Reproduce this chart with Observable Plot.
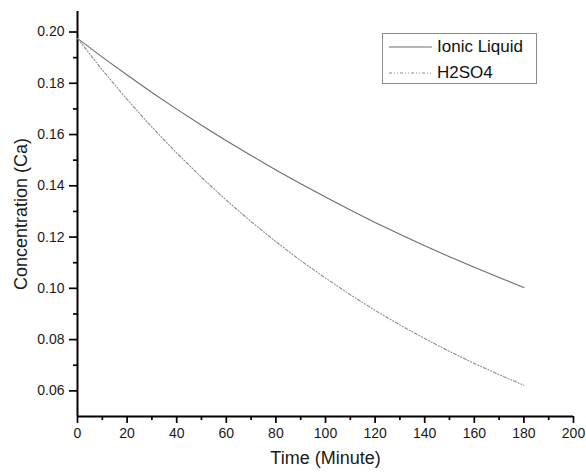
<!DOCTYPE html>
<html>
<head>
<meta charset="utf-8">
<script src="https://cdn.jsdelivr.net/npm/d3@7"></script>
<script src="https://cdn.jsdelivr.net/npm/@observablehq/plot@0.6"></script>
<style>
  html, body { margin: 0; padding: 0; background: #fff; }
  #wrap { position: relative; width: 586px; height: 472px; font-family: "Liberation Sans", Arial, sans-serif; }
  #legend { position: absolute; left: 382px; top: 33px; width: 155px; height: 51px; border: 1px solid #8a8a8a; background: #fff; box-sizing: border-box; }
  #legend .row { position: absolute; left: 6px; height: 20px; display: flex; align-items: center; font-size: 17px; color: #111; white-space: nowrap; }
  #legend svg { margin-right: 5px; }
</style>
</head>
<body>
<div id="wrap"></div>
<script>
// Data
const time = [0, 10, 20, 30, 40, 50, 60, 70, 80, 90, 100, 110, 120, 130, 140, 150, 160, 170, 180];
const ionicLiquid = [0.1975, 0.1902, 0.1832, 0.1764, 0.1699, 0.1636, 0.1576, 0.1518, 0.1462, 0.1408, 0.1356, 0.1306, 0.1257, 0.1211, 0.1166, 0.1123, 0.1082, 0.1042, 0.1003];
const h2so4 = [0.1975, 0.1852, 0.1737, 0.1629, 0.1528, 0.1433, 0.1344, 0.1260, 0.1182, 0.1108, 0.1040, 0.0975, 0.0914, 0.0857, 0.0804, 0.0754, 0.0707, 0.0663, 0.0622];
const seriesNames = ["Ionic Liquid", "H2SO4"];
const xTicks = [0, 20, 40, 60, 80, 100, 120, 140, 160, 180, 200];
const xMinorTicks = [10, 30, 50, 70, 90, 110, 130, 150, 170, 190];
const yTicks = [0.06, 0.08, 0.10, 0.12, 0.14, 0.16, 0.18, 0.20];
const yMinorTicks = [0.07, 0.09, 0.11, 0.13, 0.15, 0.17, 0.19];
const xLabel = "Time (Minute)";
const yLabel = "Concentration (Ca)";

const ionicRows = time.map((t, i) => ({t, c: ionicLiquid[i]}));
const acidRows = time.map((t, i) => ({t, c: h2so4[i]}));

const chart = Plot.plot({
  width: 586,
  height: 472,
  marginLeft: 77,
  marginRight: 13,
  marginTop: 11,
  marginBottom: 56,
  x: {domain: [0, 200]},
  y: {domain: [0.05, 0.208]},
  style: {fontFamily: "'Liberation Sans', Arial, sans-serif", fontSize: "14px", color: "#1a1a1a", background: "#fff", overflow: "visible"},
  marks: [
    Plot.axisX({ticks: xMinorTicks, tickSize: 4, tickFormat: () => "", label: null, stroke: "#000", strokeWidth: 1.7}),
    Plot.axisX({ticks: xTicks, tickSize: 7, tickPadding: 5, tickFormat: d => String(d), label: null, stroke: "#000", strokeWidth: 1.7, fill: "#1a1a1a", fontSize: 14}),
    Plot.axisY({ticks: yMinorTicks, tickSize: 4, tickFormat: () => "", label: null, stroke: "#000", strokeWidth: 1.7}),
    Plot.axisY({ticks: yTicks, tickSize: 8, tickPadding: 5, tickFormat: d => d.toFixed(2), label: null, stroke: "#000", strokeWidth: 1.7, fill: "#1a1a1a", fontSize: 14}),
    Plot.ruleX([0], {stroke: "#000", strokeWidth: 2}),
    Plot.ruleY([0.05], {stroke: "#000", strokeWidth: 2}),
    Plot.line(ionicRows, {x: "t", y: "c", stroke: "#6e6e6e", strokeWidth: 1.1}),
    Plot.line(acidRows, {x: "t", y: "c", stroke: "#8a8a8a", strokeWidth: 1.1, strokeDasharray: "3,2,1,2,1,2"}),
    Plot.text([xLabel], {frameAnchor: "bottom", textAnchor: "middle", dy: 47, fontSize: 18, fill: "#1a1a1a"}),
    Plot.text([yLabel], {frameAnchor: "left", textAnchor: "middle", rotate: -90, dx: -56, fontSize: 18, fill: "#1a1a1a"})
  ]
});

const wrap = document.getElementById("wrap");
wrap.appendChild(chart);

const legend = document.createElement("div");
legend.id = "legend";
const dashes = [null, "3,2,1,2,1,2"];
const colors = ["#6e6e6e", "#8a8a8a"];
seriesNames.forEach((name, i) => {
  const row = document.createElement("div");
  row.className = "row";
  row.style.top = (3 + i * 26) + "px";
  row.innerHTML = `<svg width="43" height="4"><line x1="0" y1="2" x2="43" y2="2" stroke="${colors[i]}" stroke-width="1.1" ${dashes[i] ? `stroke-dasharray="${dashes[i]}"` : ""}></line></svg><span>${name}</span>`;
  legend.appendChild(row);
});
wrap.appendChild(legend);
</script>
</body>
</html>
